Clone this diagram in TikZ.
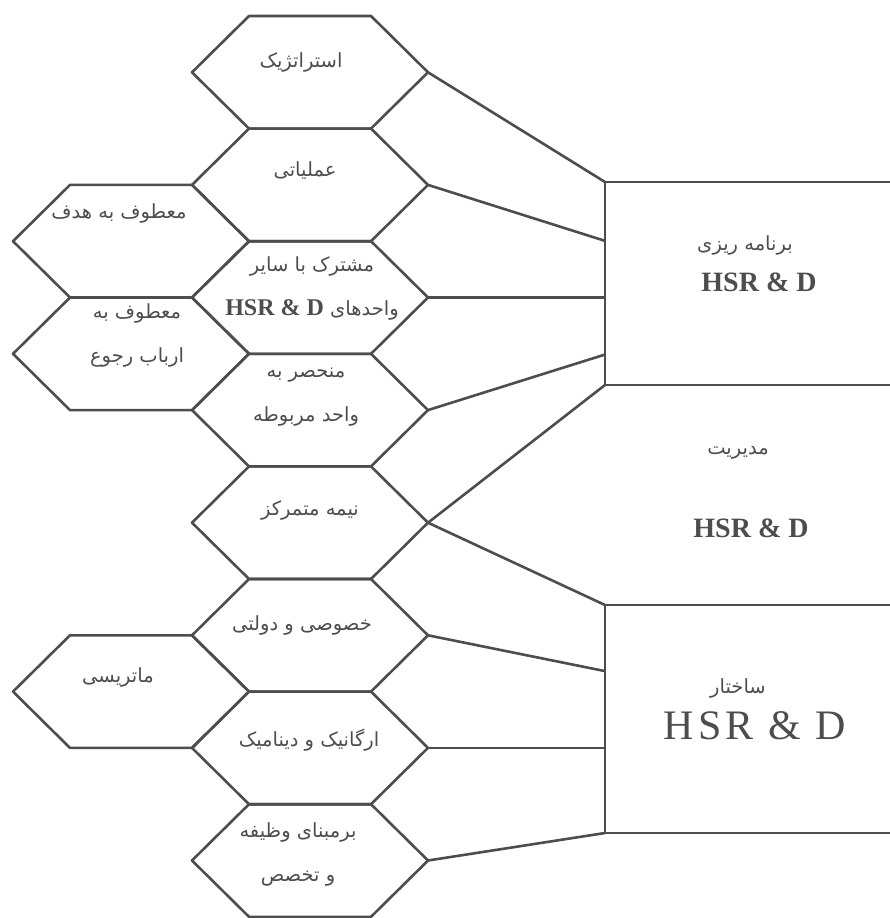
\documentclass[tikz,border=0pt]{standalone}
\usepackage{fontspec}
\setmainfont{Liberation Serif}
\newfontfamily\fa[Script=Arabic]{DejaVu Sans}
\newfontfamily\widerm[LetterSpace=10]{Liberation Serif}
\TeXXeTstate=1
\usetikzlibrary{calc}
\definecolor{ink}{HTML}{4D4D4D}
\tikzset{
  cell/.style={inner sep=0pt, align=center, font=\fa\fontsize{19.5}{44}\selectfont},
  panel/.style={draw, rectangle, inner sep=0pt, outer sep=0pt, anchor=north west, minimum width=300pt},
  latin/.style={inner sep=0pt, font=\bfseries\fontsize{28}{32}\selectfont}
}
\newcommand{\hsr}{HSR \& D}

\begin{document}
\begin{tikzpicture}[x=1pt, y=-1pt, color=ink, line width=2.6pt, line join=round]
  \useasboundingbox (0,0) rectangle (889,918);
  \coordinate	(H0)	at	(310,72.3);
  \coordinate	(H1)	at	(310,184.9);
  \coordinate	(H2)	at	(310,297.5);
  \coordinate	(H3)	at	(310,410.1);
  \coordinate	(H4)	at	(310,522.7);
  \coordinate	(H5)	at	(310,635.3);
  \coordinate	(H6)	at	(310,747.9);
  \coordinate	(H7)	at	(310,860.5);
  \coordinate	(L1)	at	(131,241.2);
  \coordinate	(L2)	at	(131,353.8);
  \coordinate	(L3)	at	(131,691.6);
  \foreach \h in {H0,H1,H2,H3,H4,H5,H6,H7,L1,L2,L3}{
    \draw (\h) ++(-118,0) -- ++(57,-56.3) -- ++(122,0) -- ++(57,56.3) -- ++(-57,56.3) -- ++(-122,0) -- cycle;
    \coordinate (\h r) at ($(\h)+(118,0)$);
  }
  \node	(tH0)	at	(301,62)	[cell] {\beginR استراتژیک\endR};
  \node	(tH1)	at	(305,171)	[cell] {\beginR عملیاتی\endR};
  \node	(tH2)	at	(312,288)	[cell] {\beginR مشترک با سایر\endR\\\beginR واحدهای \beginL{\rmfamily\bfseries\fontsize{24}{28}\selectfont\hsr}\endL\endR};
  \node	(tH3)	at	(306,397)	[cell] {\beginR منحصر به\endR\\\beginR واحد مربوطه\endR};
  \node	(tH4)	at	(310,510)	[cell] {\beginR نیمه متمرکز\endR};
  \node	(tH5)	at	(302,625)	[cell] {\beginR خصوصی و دولتی\endR};
  \node	(tH6)	at	(309,740)	[cell] {\beginR ارگانیک و دینامیک\endR};
  \node	(tH7)	at	(298,854)	[cell] {\beginR برمبنای وظیفه\endR\\\beginR و تخصص\endR};
  \node	(tL1)	at	(119,213)	[cell] {\beginR معطوف به هدف\endR};
  \node	(tL2)	at	(137,335)	[cell] {\beginR معطوف به\endR\\\beginR ارباب رجوع\endR};
  \node	(tL3)	at	(118,677)	[cell] {\beginR ماتریسی\endR};

  \node	(plan)	at	(605,182)	[panel, minimum height=203pt] {};
  \node	(build)	at	(605,605)	[panel, minimum height=228pt] {};
  \node	(planF)	at	(745,245)	[cell] {\beginR برنامه ریزی\endR};
  \node	(planH)	at	(759,282)	[latin] {\hsr};
  \node	(manF)	at	(738,453)	[cell] {\beginR مدیریت\endR};
  \node	(manH)	at	(751,528)	[latin] {\hsr};
  \node	(buildF)	at	(738,688)	[cell] {\beginR ساختار\endR};
  \node	(buildH)	at	(755,726)	[latin, font=\widerm\mdseries\fontsize{42}{46}\selectfont] {\hsr};

  \draw (H0r) -- (plan.north west);
  \draw (H1r) -- ($(plan.north west)!0.29!(plan.south west)$);
  \draw (H2r) -- (plan.west |- H2r);
  \draw (H3r) -- ($(plan.north west)!0.85!(plan.south west)$);
  \draw (H4r) -- (plan.south west);
  \draw (H4r) -- (build.north west);
  \draw (H5r) -- ($(build.north west)!0.29!(build.south west)$);
  \draw (H6r) -- (build.west |- H6r);
  \draw (H7r) -- (build.south west);
\end{tikzpicture}
\end{document}
